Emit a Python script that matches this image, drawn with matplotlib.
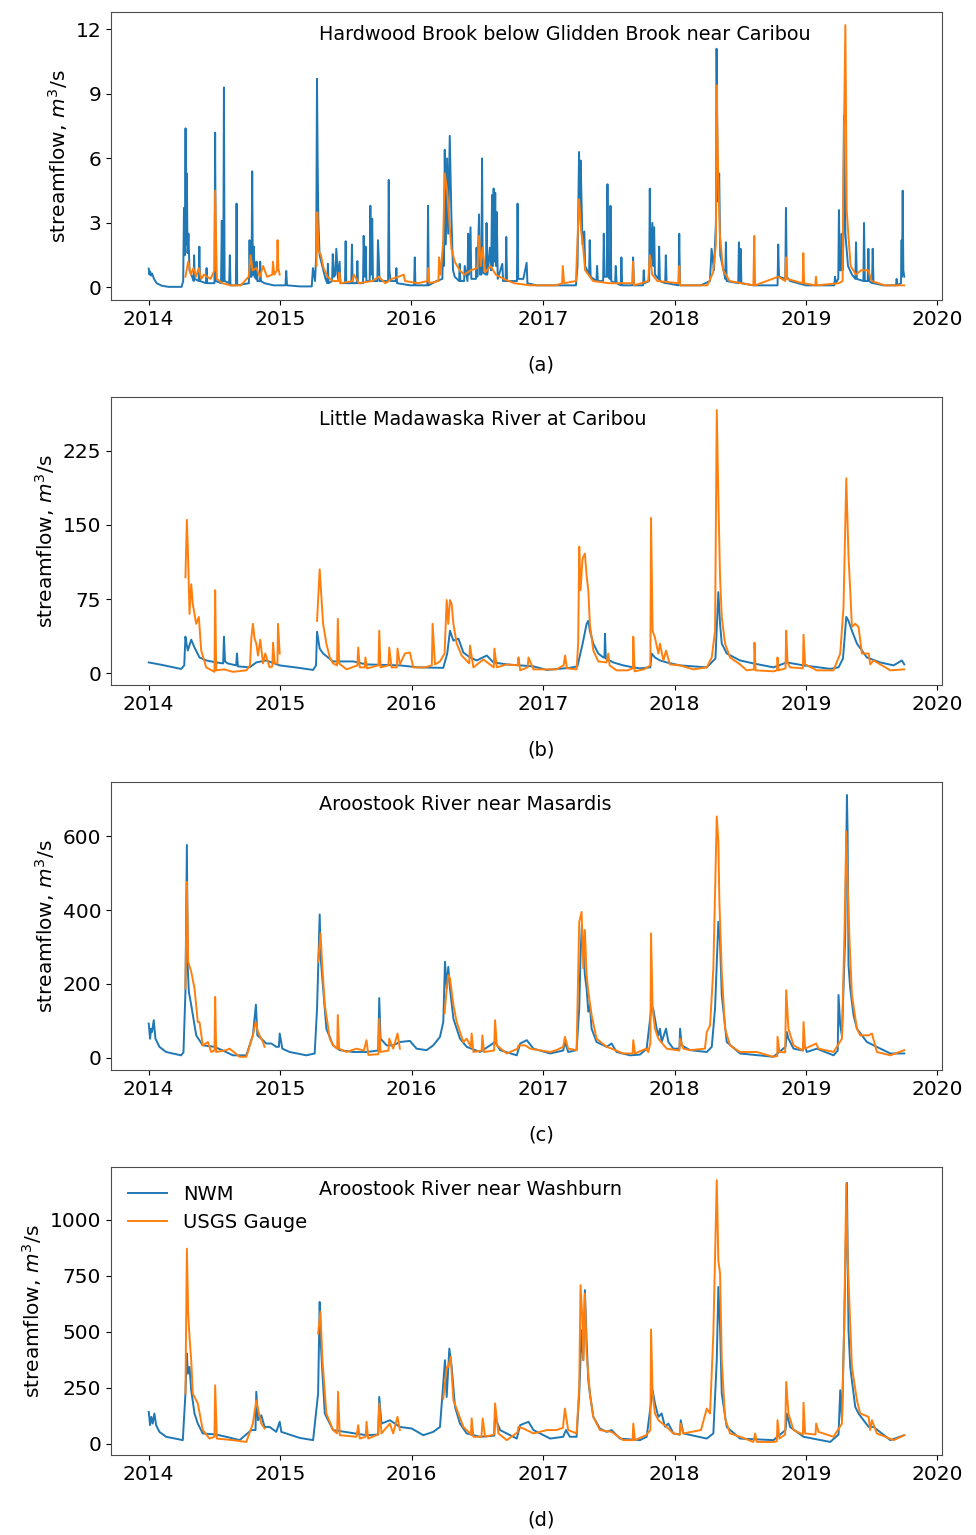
import numpy as np
import pandas as pd
import matplotlib
matplotlib.use("Agg")
import matplotlib.pyplot as plt
import matplotlib.dates as mdates

# streamflow series: (decimal year, m3/s); None = no gauge data
a_nwm = [
    (2014.000, 0.88), (2014.005, 0.6), (2014.010, 0.75), (2014.018, 0.55), (2014.025, 0.65),
    (2014.040, 0.4), (2014.060, 0.2), (2014.100, 0.08), (2014.150, 0.03), (2014.250, 0.03),
    (2014.262, 0.3), (2014.268, 3.7), (2014.274, 1.5), (2014.280, 7.4), (2014.285, 2.0),
    (2014.290, 5.3), (2014.295, 1.6), (2014.302, 2.5), (2014.310, 0.8), (2014.330, 0.5),
    (2014.342, 0.3), (2014.345, 1.5), (2014.350, 0.4), (2014.380, 0.3), (2014.385, 1.9),
    (2014.390, 0.3), (2014.435, 0.2), (2014.440, 0.9), (2014.445, 0.2), (2014.500, 0.2),
    (2014.505, 7.2), (2014.510, 0.3), (2014.550, 0.2), (2014.556, 3.1), (2014.561, 0.3),
    (2014.567, 0.3), (2014.572, 9.3), (2014.577, 0.3), (2014.612, 0.2), (2014.617, 1.5),
    (2014.622, 0.1), (2014.663, 0.1), (2014.668, 3.9), (2014.673, 0.1), (2014.762, 0.2),
    (2014.767, 2.2), (2014.772, 0.5), (2014.782, 0.5), (2014.787, 5.4), (2014.792, 0.6),
    (2014.796, 0.6), (2014.800, 1.9), (2014.805, 0.5), (2014.816, 0.4), (2014.820, 1.2),
    (2014.826, 0.3), (2014.844, 0.3), (2014.848, 1.2), (2014.853, 0.3), (2014.880, 0.2),
    (2014.950, 0.1), (2015.040, 0.1), (2015.046, 0.77), (2015.052, 0.1), (2015.150, 0.05),
    (2015.240, 0.05), (2015.249, 0.9), (2015.265, 0.3), (2015.274, 1.5), (2015.280, 9.7),
    (2015.285, 5.8), (2015.290, 3.2), (2015.300, 1.5), (2015.320, 1.0), (2015.345, 0.4),
    (2015.358, 0.2), (2015.363, 1.1), (2015.368, 0.2), (2015.395, 0.3), (2015.400, 1.55),
    (2015.410, 0.5), (2015.420, 0.6), (2015.427, 1.8), (2015.440, 0.4), (2015.452, 1.2),
    (2015.458, 0.2), (2015.493, 0.2), (2015.498, 2.15), (2015.503, 0.2), (2015.541, 0.2),
    (2015.546, 2.0), (2015.551, 0.2), (2015.582, 0.2), (2015.587, 1.23), (2015.592, 0.2),
    (2015.630, 0.2), (2015.635, 2.4), (2015.642, 0.5), (2015.650, 1.9), (2015.656, 0.3),
    (2015.681, 0.3), (2015.686, 3.8), (2015.692, 0.6), (2015.700, 3.2), (2015.706, 0.3),
    (2015.739, 0.3), (2015.744, 2.2), (2015.750, 1.4), (2015.756, 0.3), (2015.821, 0.3),
    (2015.826, 5.0), (2015.831, 0.8), (2015.840, 0.3), (2015.879, 0.3), (2015.884, 0.9),
    (2015.889, 0.2), (2015.990, 0.1), (2016.019, 0.1), (2016.024, 1.4), (2016.029, 0.1),
    (2016.120, 0.1), (2016.125, 3.8), (2016.130, 0.1), (2016.189, 0.3), (2016.234, 0.4),
    (2016.239, 2.1), (2016.246, 1.0), (2016.252, 6.4), (2016.260, 2.0), (2016.270, 6.0),
    (2016.278, 2.5), (2016.290, 7.05), (2016.303, 3.2), (2016.315, 0.8), (2016.328, 0.5),
    (2016.361, 0.3), (2016.366, 1.1), (2016.371, 0.3), (2016.399, 0.3), (2016.404, 1.0),
    (2016.425, 0.3), (2016.430, 2.5), (2016.436, 0.6), (2016.448, 2.8), (2016.454, 0.4),
    (2016.489, 0.4), (2016.494, 1.85), (2016.500, 0.5), (2016.513, 3.4), (2016.520, 0.6),
    (2016.531, 0.6), (2016.536, 6.0), (2016.541, 0.7), (2016.565, 0.6), (2016.570, 3.0),
    (2016.576, 0.6), (2016.595, 1.85), (2016.605, 0.8), (2016.612, 4.3), (2016.618, 1.0),
    (2016.624, 4.6), (2016.630, 1.2), (2016.636, 4.4), (2016.642, 1.0), (2016.648, 3.5),
    (2016.655, 0.4), (2016.690, 1.1), (2016.696, 0.3), (2016.715, 0.3), (2016.720, 2.35),
    (2016.726, 0.3), (2016.801, 0.3), (2016.806, 3.9), (2016.811, 0.4), (2016.850, 0.4),
    (2016.875, 1.15), (2016.881, 0.2), (2016.950, 0.1), (2017.150, 0.1), (2017.250, 0.1),
    (2017.262, 1.0), (2017.274, 6.3), (2017.280, 3.5), (2017.286, 5.9), (2017.292, 4.2),
    (2017.300, 2.0), (2017.314, 2.6), (2017.320, 1.0), (2017.350, 0.6), (2017.355, 2.2),
    (2017.362, 0.5), (2017.406, 0.3), (2017.411, 1.0), (2017.417, 0.3), (2017.457, 0.3),
    (2017.462, 2.5), (2017.468, 0.5), (2017.485, 0.5), (2017.490, 4.8), (2017.496, 0.5),
    (2017.508, 0.4), (2017.513, 3.8), (2017.519, 0.3), (2017.548, 0.2), (2017.553, 1.0),
    (2017.560, 0.2), (2017.591, 0.1), (2017.596, 1.4), (2017.602, 0.1), (2017.680, 0.1),
    (2017.685, 1.4), (2017.691, 0.1), (2017.761, 0.1), (2017.766, 0.8), (2017.772, 0.2),
    (2017.807, 0.3), (2017.812, 4.6), (2017.818, 1.0), (2017.832, 3.0), (2017.838, 1.0),
    (2017.845, 2.8), (2017.851, 0.6), (2017.878, 0.4), (2017.883, 1.9), (2017.889, 0.3),
    (2017.929, 0.2), (2017.934, 1.5), (2017.940, 0.2), (2018.031, 0.1), (2018.036, 2.5),
    (2018.042, 0.1), (2018.200, 0.1), (2018.270, 0.3), (2018.282, 1.8), (2018.300, 0.8),
    (2018.315, 3.0), (2018.320, 11.1), (2018.330, 4.0), (2018.340, 5.3), (2018.348, 1.5),
    (2018.380, 0.6), (2018.386, 0.4), (2018.391, 2.1), (2018.397, 0.3), (2018.485, 0.2),
    (2018.490, 2.1), (2018.496, 0.3), (2018.503, 1.8), (2018.509, 0.2), (2018.600, 0.1),
    (2018.784, 0.1), (2018.789, 2.0), (2018.795, 0.5), (2018.843, 0.4), (2018.848, 3.7),
    (2018.854, 0.5), (2018.880, 0.3), (2019.000, 0.1), (2019.216, 0.1), (2019.221, 0.5),
    (2019.227, 0.2), (2019.246, 0.4), (2019.251, 3.6), (2019.257, 0.8), (2019.267, 0.8),
    (2019.272, 2.5), (2019.278, 0.8), (2019.284, 2.0), (2019.289, 8.0), (2019.300, 2.5),
    (2019.320, 1.0), (2019.350, 0.6), (2019.376, 0.4), (2019.381, 2.1), (2019.387, 0.4),
    (2019.437, 0.3), (2019.442, 3.0), (2019.448, 0.3), (2019.470, 0.3), (2019.475, 1.8),
    (2019.481, 0.3), (2019.503, 0.2), (2019.508, 1.8), (2019.514, 0.2), (2019.589, 0.1),
    (2019.685, 0.1), (2019.690, 0.4), (2019.696, 0.1), (2019.723, 0.2), (2019.728, 2.2),
    (2019.731, 0.5), (2019.736, 4.5), (2019.741, 0.8), (2019.748, 0.5),
]
a_usgs = [
    (2014.279, 0.5), (2014.300, 1.2), (2014.320, 0.6), (2014.340, 0.9), (2014.360, 0.5),
    (2014.380, 0.9), (2014.400, 0.4), (2014.420, 0.6), (2014.470, 0.4), (2014.500, 0.8),
    (2014.505, 4.5), (2014.511, 2.6), (2014.518, 0.4), (2014.560, 0.2), (2014.620, 0.1),
    (2014.700, 0.1), (2014.760, 0.5), (2014.775, 1.5), (2014.790, 0.8), (2014.820, 0.9),
    (2014.845, 0.5), (2014.870, 1.0), (2014.900, 0.5), (2014.940, 0.6), (2014.945, 1.2),
    (2014.955, 0.6), (2014.975, 0.8), (2014.980, 2.2), (2014.986, 0.9), (2014.996, 0.6),
    (2015.000, None),
    (2015.276, 1.0), (2015.282, 3.5), (2015.292, 1.7), (2015.310, 1.5), (2015.330, 0.9),
    (2015.360, 0.5), (2015.400, 0.3), (2015.445, 0.3), (2015.450, 0.7), (2015.460, 0.2),
    (2015.550, 0.3), (2015.560, 0.6), (2015.600, 0.2), (2015.700, 0.3), (2015.750, 0.5),
    (2015.800, 0.2), (2015.850, 0.4), (2015.900, 0.5), (2015.940, 0.6), (2015.950, 0.3),
    (2016.050, 0.2), (2016.120, 0.3), (2016.125, 0.9), (2016.135, 0.2), (2016.204, 0.3),
    (2016.209, 1.4), (2016.220, 0.6), (2016.239, 2.0), (2016.252, 5.3), (2016.270, 4.5),
    (2016.290, 2.8), (2016.303, 1.8), (2016.328, 1.2), (2016.366, 0.8), (2016.400, 0.6),
    (2016.450, 0.8), (2016.500, 0.9), (2016.513, 2.4), (2016.525, 1.0), (2016.540, 1.85),
    (2016.560, 0.7), (2016.600, 1.0), (2016.640, 0.6), (2016.700, 0.4), (2016.780, 0.2),
    (2016.900, 0.1), (2017.100, 0.1), (2017.145, 0.2), (2017.150, 1.0), (2017.160, 0.2),
    (2017.250, 0.3), (2017.274, 4.1), (2017.282, 3.4), (2017.290, 2.6), (2017.300, 2.2),
    (2017.320, 0.8), (2017.380, 0.3), (2017.500, 0.2), (2017.680, 0.2), (2017.685, 1.2),
    (2017.691, 0.1), (2017.800, 0.3), (2017.812, 1.5), (2017.830, 0.6), (2017.870, 0.3),
    (2018.031, 0.2), (2018.036, 1.0), (2018.042, 0.1), (2018.250, 0.1), (2018.294, 0.7),
    (2018.315, 2.0), (2018.320, 9.4), (2018.332, 5.3), (2018.345, 2.5), (2018.370, 0.8),
    (2018.420, 0.3), (2018.600, 0.1), (2018.607, 2.4), (2018.613, 0.1), (2018.789, 0.5),
    (2018.842, 0.3), (2018.848, 1.4), (2018.856, 0.4), (2018.975, 0.2), (2018.980, 1.6),
    (2018.986, 0.2), (2019.071, 0.1), (2019.076, 0.5), (2019.082, 0.1), (2019.250, 0.2),
    (2019.279, 0.3), (2019.284, 4.7), (2019.300, 12.2), (2019.310, 3.6), (2019.322, 2.5),
    (2019.340, 1.0), (2019.380, 0.6), (2019.420, 0.8), (2019.475, 0.8), (2019.500, 0.3),
    (2019.600, 0.1), (2019.746, 0.1),
]

b_nwm = [
    (2014.000, 11), (2014.100, 8.5), (2014.246, 4.4), (2014.270, 8), (2014.279, 37),
    (2014.290, 28), (2014.297, 23), (2014.323, 34), (2014.348, 26), (2014.386, 16),
    (2014.437, 13), (2014.513, 11), (2014.566, 10), (2014.572, 37), (2014.580, 12),
    (2014.600, 10), (2014.665, 8), (2014.671, 20), (2014.678, 7), (2014.767, 6),
    (2014.818, 11), (2014.894, 13), (2014.996, 8), (2015.148, 5.4), (2015.250, 3.4),
    (2015.272, 8), (2015.280, 42), (2015.300, 25), (2015.326, 20), (2015.402, 12),
    (2015.554, 12), (2015.656, 9), (2015.910, 8), (2016.050, 6), (2016.240, 5.5),
    (2016.270, 20), (2016.291, 43), (2016.317, 33), (2016.355, 35), (2016.393, 21),
    (2016.443, 16), (2016.494, 13), (2016.571, 18), (2016.621, 11), (2016.723, 9),
    (2016.926, 7), (2017.028, 3.4), (2017.200, 5.5), (2017.260, 7), (2017.300, 30),
    (2017.330, 50), (2017.343, 53), (2017.355, 43), (2017.381, 30), (2017.419, 20),
    (2017.457, 16), (2017.466, 16), (2017.470, 40), (2017.476, 15), (2017.533, 11),
    (2017.609, 8), (2017.685, 6), (2017.736, 5), (2017.815, 6), (2017.825, 20),
    (2017.850, 16), (2017.888, 13), (2017.939, 11), (2018.041, 8), (2018.244, 6),
    (2018.310, 15), (2018.332, 82), (2018.345, 50), (2018.358, 30), (2018.396, 20),
    (2018.497, 13), (2018.599, 10), (2018.751, 6), (2018.853, 11), (2018.980, 8),
    (2019.183, 4.5), (2019.246, 6), (2019.280, 15), (2019.305, 57), (2019.322, 53),
    (2019.348, 43), (2019.386, 30), (2019.462, 16), (2019.563, 11), (2019.665, 8),
    (2019.728, 13), (2019.746, 9),
]
b_usgs = [
    (2014.279, 97), (2014.290, 155), (2014.300, 114), (2014.310, 60), (2014.323, 90),
    (2014.335, 70), (2014.361, 50), (2014.381, 57), (2014.399, 23), (2014.437, 6),
    (2014.500, 1.5), (2014.505, 84), (2014.513, 3), (2014.572, 4), (2014.640, 1.5),
    (2014.742, 3), (2014.770, 8), (2014.780, 35), (2014.792, 50), (2014.805, 35),
    (2014.818, 30), (2014.831, 18), (2014.848, 34), (2014.869, 10), (2014.886, 20),
    (2014.919, 6), (2014.940, 7), (2014.945, 31), (2014.958, 10), (2014.979, 10),
    (2014.983, 50), (2014.996, 20), (2015.000, None),
    (2015.280, 53), (2015.300, 105), (2015.313, 77), (2015.326, 50), (2015.351, 30),
    (2015.377, 16), (2015.402, 10), (2015.432, 8), (2015.438, 55), (2015.448, 10),
    (2015.504, 4), (2015.587, 8), (2015.593, 26), (2015.605, 6), (2015.643, 6),
    (2015.648, 16), (2015.660, 5), (2015.747, 8), (2015.753, 43), (2015.763, 6),
    (2015.823, 8), (2015.829, 26), (2015.847, 6), (2015.887, 6), (2015.892, 25),
    (2015.910, 9), (2015.948, 20), (2015.986, 21), (2016.012, 6), (2016.100, 6),
    (2016.153, 8), (2016.159, 50), (2016.177, 9), (2016.215, 12), (2016.250, 20),
    (2016.266, 74), (2016.278, 50), (2016.291, 74), (2016.304, 70), (2016.317, 50),
    (2016.342, 30), (2016.380, 18), (2016.438, 10), (2016.443, 28), (2016.469, 6),
    (2016.545, 14), (2016.624, 6), (2016.629, 25), (2016.647, 6), (2016.723, 9),
    (2016.806, 8), (2016.812, 16), (2016.825, 3), (2016.882, 6), (2016.888, 16),
    (2016.926, 4), (2017.100, 4), (2017.155, 8), (2017.167, 18), (2017.180, 5),
    (2017.254, 4), (2017.266, 30), (2017.274, 128), (2017.284, 84), (2017.299, 116),
    (2017.317, 121), (2017.330, 99), (2017.343, 84), (2017.355, 50), (2017.381, 23),
    (2017.419, 12), (2017.482, 11), (2017.495, 20), (2017.505, 8), (2017.558, 3),
    (2017.640, 3), (2017.682, 5), (2017.685, 37), (2017.695, 2), (2017.766, 4),
    (2017.815, 8), (2017.820, 157), (2017.832, 43), (2017.850, 36), (2017.876, 20),
    (2017.888, 30), (2017.914, 13), (2017.934, 23), (2017.964, 9), (2018.041, 8),
    (2018.142, 4), (2018.244, 6), (2018.282, 16), (2018.307, 43), (2018.320, 266),
    (2018.332, 178), (2018.345, 97), (2018.358, 57), (2018.383, 30), (2018.421, 16),
    (2018.497, 9), (2018.548, 3), (2018.604, 4), (2018.607, 31), (2018.615, 3),
    (2018.751, 2), (2018.778, 3), (2018.782, 16), (2018.790, 3), (2018.843, 5),
    (2018.848, 43), (2018.858, 11), (2018.878, 6), (2018.975, 5), (2018.980, 39),
    (2018.992, 9), (2019.081, 3), (2019.208, 3), (2019.259, 20), (2019.284, 67),
    (2019.305, 197), (2019.322, 118), (2019.335, 84), (2019.348, 47), (2019.373, 50),
    (2019.398, 47), (2019.424, 20), (2019.475, 20), (2019.487, 9), (2019.513, 13),
    (2019.640, 3), (2019.746, 4),
]

c_nwm = [
    (2014.000, 93), (2014.010, 52), (2014.018, 79), (2014.025, 70), (2014.038, 102),
    (2014.051, 52), (2014.081, 30), (2014.132, 16), (2014.246, 7), (2014.264, 15),
    (2014.279, 179), (2014.290, 576), (2014.297, 242), (2014.305, 179), (2014.323, 143),
    (2014.361, 61), (2014.411, 34), (2014.500, 30), (2014.564, 20), (2014.640, 7),
    (2014.742, 7), (2014.792, 61), (2014.815, 144), (2014.826, 61), (2014.856, 52),
    (2014.894, 39), (2014.932, 39), (2014.970, 30), (2014.990, 30), (2014.996, 66),
    (2015.016, 25), (2015.072, 16), (2015.199, 7), (2015.262, 12), (2015.280, 134),
    (2015.300, 388), (2015.308, 269), (2015.326, 188), (2015.351, 79), (2015.402, 34),
    (2015.453, 21), (2015.554, 16), (2015.656, 16), (2015.745, 20), (2015.753, 162),
    (2015.763, 52), (2015.809, 34), (2015.859, 34), (2015.910, 43), (2015.986, 46),
    (2016.037, 25), (2016.113, 21), (2016.164, 34), (2016.215, 57), (2016.240, 97),
    (2016.253, 260), (2016.266, 188), (2016.278, 246), (2016.291, 188), (2016.317, 106),
    (2016.367, 52), (2016.418, 30), (2016.520, 16), (2016.634, 43), (2016.672, 21),
    (2016.799, 7), (2016.825, 39), (2016.875, 48), (2016.926, 25), (2017.053, 12),
    (2017.152, 20), (2017.165, 43), (2017.190, 16), (2017.254, 21), (2017.274, 134),
    (2017.284, 278), (2017.294, 359), (2017.305, 296), (2017.317, 224), (2017.330, 188),
    (2017.343, 125), (2017.355, 143), (2017.368, 79), (2017.406, 43), (2017.482, 30),
    (2017.520, 39), (2017.558, 16), (2017.660, 7), (2017.736, 9), (2017.787, 25),
    (2017.825, 143), (2017.838, 130), (2017.863, 79), (2017.876, 60), (2017.888, 79),
    (2017.901, 43), (2017.934, 79), (2017.952, 43), (2017.990, 25), (2018.036, 25),
    (2018.041, 79), (2018.053, 34), (2018.117, 21), (2018.244, 16), (2018.282, 30),
    (2018.307, 134), (2018.332, 368), (2018.345, 314), (2018.358, 170), (2018.396, 43),
    (2018.497, 12), (2018.751, 3), (2018.843, 30), (2018.853, 70), (2018.865, 52),
    (2018.904, 25), (2018.975, 20), (2018.980, 43), (2019.005, 16), (2019.081, 25),
    (2019.208, 7), (2019.240, 20), (2019.246, 170), (2019.259, 88), (2019.272, 60),
    (2019.297, 332), (2019.310, 711), (2019.315, 612), (2019.322, 251), (2019.335, 188),
    (2019.360, 116), (2019.386, 79), (2019.462, 43), (2019.513, 34), (2019.640, 12),
    (2019.746, 12),
]
c_usgs = [
    (2014.279, 188), (2014.290, 476), (2014.300, 260), (2014.323, 233), (2014.348, 188),
    (2014.373, 97), (2014.386, 97), (2014.411, 34), (2014.450, 43), (2014.475, 16),
    (2014.500, 20), (2014.505, 165), (2014.513, 16), (2014.589, 21), (2014.615, 25),
    (2014.691, 3), (2014.742, 3), (2014.792, 61), (2014.813, 97), (2014.831, 70),
    (2014.843, 61), (2014.869, 43), (2014.881, 30), (2014.890, None),
    (2015.288, 260), (2015.306, 337), (2015.321, 242), (2015.339, 143), (2015.377, 52),
    (2015.402, 34), (2015.433, 25), (2015.438, 116), (2015.448, 25), (2015.504, 16),
    (2015.580, 25), (2015.636, 20), (2015.656, 48), (2015.670, 8), (2015.747, 10),
    (2015.753, 106), (2015.763, 16), (2015.823, 20), (2015.829, 52), (2015.859, 25),
    (2015.892, 66), (2015.910, 25), (2015.915, None),
    (2016.250, 120), (2016.266, 188), (2016.278, 224), (2016.291, 215), (2016.317, 143),
    (2016.342, 97), (2016.367, 70), (2016.393, 43), (2016.418, 52), (2016.450, 30),
    (2016.456, 66), (2016.469, 16), (2016.532, 20), (2016.537, 61), (2016.550, 16),
    (2016.626, 20), (2016.634, 102), (2016.647, 34), (2016.723, 12), (2016.805, 25),
    (2016.812, 34), (2016.863, 34), (2016.901, 25), (2017.053, 16), (2017.100, 21),
    (2017.152, 30), (2017.165, 57), (2017.190, 25), (2017.254, 21), (2017.274, 368),
    (2017.292, 395), (2017.305, 242), (2017.317, 346), (2017.330, 224), (2017.343, 179),
    (2017.368, 116), (2017.406, 52), (2017.482, 30), (2017.520, 25), (2017.609, 12),
    (2017.680, 12), (2017.685, 48), (2017.698, 12), (2017.782, 25), (2017.799, 16),
    (2017.815, 40), (2017.820, 337), (2017.832, 134), (2017.850, 79), (2017.876, 52),
    (2017.939, 25), (2018.035, 20), (2018.041, 52), (2018.066, 25), (2018.117, 21),
    (2018.230, 25), (2018.244, 70), (2018.269, 88), (2018.294, 242), (2018.320, 653),
    (2018.332, 585), (2018.340, 422), (2018.358, 233), (2018.383, 79), (2018.421, 34),
    (2018.497, 16), (2018.624, 16), (2018.751, 3), (2018.780, 5), (2018.782, 57),
    (2018.797, 16), (2018.840, 15), (2018.848, 183), (2018.865, 79), (2018.904, 34),
    (2018.975, 20), (2018.980, 97), (2018.992, 25), (2019.076, 39), (2019.094, 25),
    (2019.208, 16), (2019.272, 52), (2019.292, 350), (2019.305, 612), (2019.315, 481),
    (2019.330, 314), (2019.348, 170), (2019.386, 79), (2019.411, 61), (2019.475, 61),
    (2019.500, 66), (2019.538, 16), (2019.640, 7), (2019.746, 21),
]

d_nwm = [
    (2014.000, 141), (2014.010, 82), (2014.020, 119), (2014.030, 89), (2014.043, 134),
    (2014.056, 82), (2014.081, 52), (2014.132, 30), (2014.259, 15), (2014.279, 223),
    (2014.290, 402), (2014.297, 312), (2014.310, 342), (2014.323, 238), (2014.348, 134),
    (2014.373, 89), (2014.411, 45), (2014.513, 40), (2014.589, 30), (2014.691, 15),
    (2014.780, 60), (2014.812, 60), (2014.818, 231), (2014.831, 104), (2014.856, 126),
    (2014.881, 74), (2014.919, 74), (2014.970, 52), (2014.996, 97), (2015.008, 52),
    (2015.148, 25), (2015.250, 15), (2015.288, 223), (2015.300, 632), (2015.306, 476),
    (2015.321, 312), (2015.339, 134), (2015.402, 60), (2015.656, 37), (2015.745, 40),
    (2015.753, 208), (2015.770, 89), (2015.834, 104), (2015.910, 74), (2016.000, 67),
    (2016.088, 37), (2016.164, 52), (2016.215, 74), (2016.253, 372), (2016.266, 208),
    (2016.286, 424), (2016.304, 342), (2016.329, 164), (2016.367, 89), (2016.418, 45),
    (2016.520, 30), (2016.628, 35), (2016.634, 119), (2016.672, 60), (2016.799, 22),
    (2016.825, 82), (2016.888, 97), (2016.926, 60), (2017.053, 22), (2017.152, 30),
    (2017.173, 60), (2017.203, 30), (2017.254, 30), (2017.274, 223), (2017.292, 506),
    (2017.305, 372), (2017.317, 685), (2017.330, 461), (2017.343, 283), (2017.355, 223),
    (2017.381, 119), (2017.431, 67), (2017.482, 52), (2017.520, 60), (2017.584, 22),
    (2017.736, 15), (2017.787, 30), (2017.832, 238), (2017.850, 179), (2017.876, 119),
    (2017.901, 134), (2017.926, 75), (2017.952, 89), (2017.990, 45), (2018.040, 40),
    (2018.046, 104), (2018.066, 45), (2018.244, 22), (2018.294, 45), (2018.320, 372),
    (2018.332, 699), (2018.345, 521), (2018.358, 223), (2018.396, 74), (2018.497, 22),
    (2018.751, 15), (2018.843, 60), (2018.853, 134), (2018.878, 74), (2018.980, 30),
    (2019.183, 7), (2019.246, 40), (2019.259, 238), (2019.272, 104), (2019.289, 521),
    (2019.310, 1164), (2019.322, 506), (2019.335, 342), (2019.373, 164), (2019.398, 134),
    (2019.475, 74), (2019.513, 74), (2019.640, 15), (2019.746, 37),
]
d_usgs = [
    (2014.279, 223), (2014.290, 870), (2014.300, 580), (2014.310, 476), (2014.323, 372),
    (2014.335, 223), (2014.373, 179), (2014.411, 60), (2014.462, 22), (2014.500, 30),
    (2014.505, 260), (2014.518, 22), (2014.640, 15), (2014.742, 7), (2014.792, 89),
    (2014.818, 193), (2014.838, 134), (2014.856, 89), (2014.881, 67), (2014.890, None),
    (2015.288, 491), (2015.306, 588), (2015.321, 372), (2015.351, 134), (2015.402, 60),
    (2015.433, 45), (2015.440, 231), (2015.453, 37), (2015.580, 30), (2015.593, 82),
    (2015.605, 22), (2015.650, 30), (2015.656, 97), (2015.669, 22), (2015.745, 40),
    (2015.753, 179), (2015.770, 45), (2015.834, 89), (2015.859, 45), (2015.892, 119),
    (2015.910, 60), (2015.915, None),
    (2016.240, 200), (2016.266, 342), (2016.278, 342), (2016.296, 387), (2016.317, 193),
    (2016.355, 134), (2016.393, 74), (2016.418, 60), (2016.450, 40), (2016.456, 112),
    (2016.469, 30), (2016.530, 30), (2016.540, 112), (2016.558, 30), (2016.625, 40),
    (2016.634, 179), (2016.659, 45), (2016.723, 15), (2016.805, 50), (2016.812, 74),
    (2016.850, 67), (2016.926, 45), (2017.028, 60), (2017.100, 60), (2017.150, 70),
    (2017.165, 156), (2017.190, 60), (2017.254, 45), (2017.274, 253), (2017.284, 707),
    (2017.297, 565), (2017.305, 372), (2017.317, 670), (2017.330, 402), (2017.343, 312),
    (2017.355, 223), (2017.381, 119), (2017.431, 60), (2017.520, 52), (2017.609, 15),
    (2017.680, 15), (2017.685, 89), (2017.698, 15), (2017.782, 37), (2017.815, 60),
    (2017.820, 509), (2017.832, 223), (2017.850, 134), (2017.876, 104), (2017.939, 74),
    (2017.990, 45), (2018.040, 40), (2018.046, 89), (2018.066, 45), (2018.200, 60),
    (2018.244, 156), (2018.269, 134), (2018.294, 491), (2018.320, 1176), (2018.332, 818),
    (2018.345, 759), (2018.358, 372), (2018.383, 112), (2018.421, 45), (2018.497, 30),
    (2018.599, 7), (2018.612, 45), (2018.624, 7), (2018.751, 7), (2018.777, 10),
    (2018.782, 104), (2018.797, 22), (2018.840, 40), (2018.848, 275), (2018.865, 134),
    (2018.904, 60), (2018.975, 40), (2018.980, 182), (2018.992, 45), (2019.071, 40),
    (2019.076, 89), (2019.094, 52), (2019.208, 30), (2019.272, 89), (2019.289, 521),
    (2019.305, 1161), (2019.315, 833), (2019.330, 610), (2019.348, 342), (2019.386, 193),
    (2019.411, 134), (2019.475, 119), (2019.487, 60), (2019.500, 104), (2019.538, 45),
    (2019.665, 15), (2019.746, 37),
]

station_names = [
    "Hardwood Brook below Glidden Brook near Caribou",
    "Little Madawaska River at Caribou",
    "Aroostook River near Masardis",
    "Aroostook River near Washburn",
]
panel_tags = ["(a)", "(b)", "(c)", "(d)"]
yticks = [
    [0, 3, 6, 9, 12],
    [0, 75, 150, 225],
    [0, 200, 400, 600],
    [0, 250, 500, 750, 1000],
]
series = [(a_nwm, a_usgs), (b_nwm, b_usgs), (c_nwm, c_usgs), (d_nwm, d_usgs)]

NWM_COLOR = "#1f77b4"
USGS_COLOR = "#ff7f0e"


def to_series(pairs):
    """Turn (decimal year, flow) pairs into datetimes and a float array."""
    yrs = np.array([p[0] for p in pairs], dtype=float)
    vals = np.array([np.nan if p[1] is None else p[1] for p in pairs], dtype=float)
    dates = pd.Timestamp("2014-01-01") + pd.to_timedelta((yrs - 2014.0) * 365.25, unit="D")
    return dates, vals


fig = plt.figure(figsize=(9.76, 15.35), dpi=100)

# axes boxes in figure fraction
tops = [0.9922, 0.7414, 0.4906, 0.2397]
height = 0.1876
tag_y = [1 - 365 / 1535, 1 - 750 / 1535, 1 - 1135 / 1535, 1 - 1520 / 1535]

for i in range(4):
    ax = fig.add_axes([0.1137, tops[i] - height, 0.8515, height])
    nwm, usgs = series[i]
    t1, q1 = to_series(nwm)
    t2, q2 = to_series(usgs)
    ax.plot(t1, q1, color=NWM_COLOR, lw=1.4, label="NWM")
    ax.plot(t2, q2, color=USGS_COLOR, lw=1.4, label="USGS Gauge")

    ax.set_yticks(yticks[i])
    ax.xaxis.set_major_locator(mdates.YearLocator())
    ax.xaxis.set_major_formatter(mdates.DateFormatter("%Y"))
    ax.tick_params(labelsize=14.5)
    ax.set_ylabel(r"streamflow, $m^3$/s", fontsize=14.5)
    for sp in ax.spines.values():
        sp.set_color("0.3")

    ax.text(0.25, 0.955, station_names[i], transform=ax.transAxes,
            ha="left", va="top", fontsize=13.8)
    fig.text(541 / 976, tag_y[i], panel_tags[i], ha="center", va="center", fontsize=14)

    if i == 3:
        ax.legend(loc="upper left", frameon=False, fontsize=14)

fig.savefig("out.png", dpi=100)
